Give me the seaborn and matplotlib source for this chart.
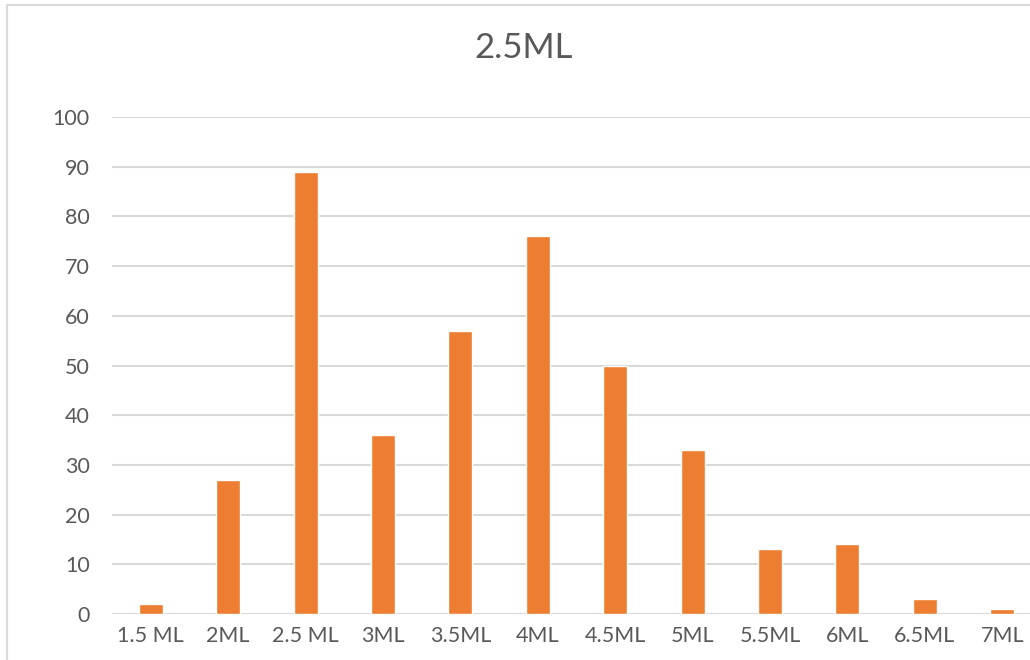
import matplotlib
matplotlib.use("Agg")
import matplotlib.pyplot as plt
from matplotlib.patches import Rectangle
import seaborn as sns
import pandas as pd

categories = ["1.5 ML", "2ML", "2.5 ML", "3ML", "3.5ML", "4ML",
              "4.5ML", "5ML", "5.5ML", "6ML", "6.5ML", "7ML"]
counts = [2, 27, 89, 36, 57, 76, 50, 33, 13, 14, 3, 1]
y_ticks = [0, 10, 20, 30, 40, 50, 60, 70, 80, 90, 100]
title = "2.5ML"

sns.set_theme(style="white")
plt.rcParams["font.family"] = ["Lato", "DejaVu Sans"]

text_color = "#595959"
grid_color = "#D9D9D9"
bar_color = "#ED7D31"

W, H = 1030, 660
fig = plt.figure(figsize=(W / 100, H / 100), dpi=100)
fig.patch.set_facecolor("white")

# plot area runs slightly past the right edge of the canvas
left, right, bottom, top = 112, 1041, 614, 117
ax = fig.add_axes([left / W, 1 - bottom / H, (right - left) / W, (bottom - top) / H])

df = pd.DataFrame({"category": categories, "count": counts})
sns.barplot(data=df, x="category", y="count", color=bar_color, width=0.31,
            saturation=1, ax=ax, zorder=3)

ax.set_ylim(0, 100)
ax.set_yticks(y_ticks)
ax.set_yticklabels([str(v) for v in y_ticks])
ax.set_xlabel("")
ax.set_ylabel("")
ax.yaxis.grid(True, color=grid_color, linewidth=1.5, zorder=0)
ax.xaxis.grid(False)
ax.set_axisbelow(True)
for s in ax.spines.values():
    s.set_visible(False)
ax.tick_params(axis="y", length=0, pad=16, labelsize=15.5, labelcolor=text_color)
ax.tick_params(axis="x", length=0, pad=9, labelsize=15.5, labelcolor=text_color)
ax.set_clip_on(False)

fig.text(524 / W, 1 - 48 / H, title, ha="center", va="center",
         fontsize=25, color=text_color)

# chart frame
fig.patches.append(Rectangle((6.5 / W, -0.1), 2, 1.1 - 5.5 / H,
                             transform=fig.transFigure, fill=False,
                             edgecolor=grid_color, linewidth=1.5))

fig.savefig("out.png", dpi=100, facecolor="white")
